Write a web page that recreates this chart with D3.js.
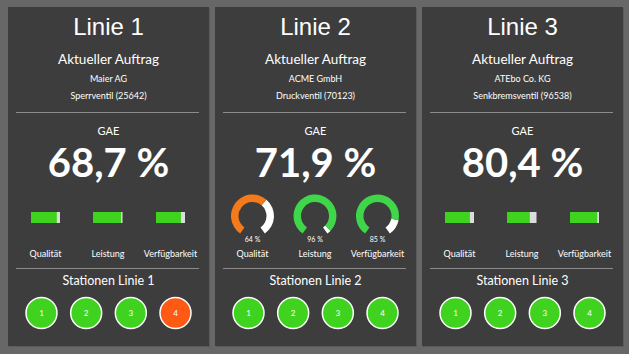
<!DOCTYPE html>
<head>
  <meta charset="utf-8">
  <style>
    body { margin: 0; background: #676767; }
    svg text { fill: #fff; text-anchor: middle; font-family: Lato, "Open Sans", sans-serif; }
    svg .title { font-family: "Liberation Sans", Arial, sans-serif; font-size: 24px; }
    svg .sep { stroke: #8c8c8c; stroke-width: 1px; }
  </style>
</head>
<body>
<script src="https://d3js.org/d3.v7.min.js"></script>
<script>
  // dashboard data
  var lines        = ["Linie 1", "Linie 2", "Linie 3"];
  var customers    = ["Maier AG", "ACME GmbH", "ATEbo Co. KG"];
  var products     = ["Sperrventil (25642)", "Druckventil (70123)", "Senkbremsventil (96538)"];
  var gae          = [68.7, 71.9, 80.4];
  var kpiNames     = ["Qualität", "Leistung", "Verfügbarkeit"];
  var quality      = [89, 64, 86];
  var performance  = [95, 96, 77];
  var availability = [86, 85, 94];
  var kpiStyle     = ["bar", "gauge", "bar"];
  var stations     = [1, 2, 3, 4];
  var stationState = [["ok", "ok", "ok", "fault"], ["ok", "ok", "ok", "ok"], ["ok", "ok", "ok", "ok"]];

  var W = 629, H = 354;
  var panelW = 201, panelTop = 7, panelH = 339;

  var svg = d3.select("body").append("svg")
      .attr("width", W)
      .attr("height", H);

  // panel positions
  var xPanel = d3.scalePoint().domain(lines).range([8, 422]);
  var xKpi = d3.scalePoint().domain(kpiNames).range([-63, 62]);
  var xStation = d3.scalePoint().domain(stations).range([-67, 67]);
  var fillScale = d3.scaleLinear().domain([0, 100]).range([0, 29]);
  var angle = d3.scaleLinear().domain([0, 100]).range([-0.805 * Math.PI, 0.805 * Math.PI]);

  var green = "#3fd31f", gaugeGreen = "#3fd64a", orange = "#f57a1c", red = "#ff5a14";

  var fmt = function (v) { return d3.format(".1f")(v).replace(".", ",") + " %"; };

  lines.forEach(function (name, i) {
    var g = svg.append("g")
        .attr("transform", "translate(" + xPanel(name) + "," + panelTop + ")");
    var cx = panelW / 2;

    g.append("rect")
        .attr("x", 1).attr("y", 1)
        .attr("width", panelW).attr("height", panelH)
        .style("fill", "#5a5a5a");
    g.append("rect")
        .attr("width", panelW).attr("height", panelH)
        .style("fill", "#3d3d3d");

    g.append("text").classed("title", true)
        .attr("x", cx).attr("y", 28)
        .text(name);
    g.append("text")
        .attr("x", cx).attr("y", 57)
        .style("font-size", "13.5px")
        .text("Aktueller Auftrag");
    g.append("text")
        .attr("x", cx).attr("y", 75)
        .style("font-size", "9px")
        .text(customers[i]);
    g.append("text")
        .attr("x", cx).attr("y", 91.5)
        .style("font-size", "9px")
        .text(products[i]);

    g.append("line").classed("sep", true)
        .attr("x1", 8).attr("x2", panelW - 10)
        .attr("y1", 105.5).attr("y2", 105.5);

    g.append("text")
        .attr("x", cx).attr("y", 128)
        .style("font-size", "11px")
        .text("GAE");
    g.append("text")
        .attr("x", cx).attr("y", 170)
        .style("font-size", "40px")
        .style("font-weight", "bold")
        .text(fmt(gae[i]));

    var vals = [quality[i], performance[i], availability[i]];

    kpiNames.forEach(function (k, j) {
      var kx = cx + xKpi(k);
      if (kpiStyle[i] === "bar") {
        g.append("rect")
            .attr("x", kx - 14.5).attr("y", 205)
            .attr("width", fillScale(100)).attr("height", 11)
            .style("fill", "#dcdcdc");
        g.append("rect")
            .attr("x", kx - 14.5).attr("y", 205)
            .attr("width", fillScale(vals[j])).attr("height", 11)
            .style("fill", green);
      } else {
        var arc = d3.arc().innerRadius(14).outerRadius(21.5);
        var col = vals[j] < 80 ? orange : gaugeGreen;
        var gg = g.append("g").attr("transform", "translate(" + kx + ",209)");
        gg.append("path")
            .attr("d", arc({ startAngle: angle(vals[j]), endAngle: angle(100) }))
            .style("fill", "#fff");
        gg.append("path")
            .attr("d", arc({ startAngle: angle(0), endAngle: angle(vals[j]) }))
            .style("fill", col);
        gg.append("text")
            .attr("y", 26)
            .style("font-size", "7px")
            .text(vals[j] + " %");
      }
      g.append("text")
          .attr("x", kx).attr("y", 250)
          .style("font-size", "9px")
          .text(k);
    });

    g.append("line").classed("sep", true)
        .attr("x1", 8).attr("x2", panelW - 10)
        .attr("y1", 261.5).attr("y2", 261.5);

    g.append("text")
        .attr("x", cx).attr("y", 278)
        .style("font-size", "12.5px")
        .text("Stationen " + name);

    stations.forEach(function (s, j) {
      g.append("circle")
          .attr("cx", cx + xStation(s)).attr("cy", 306)
          .attr("r", 15.5)
          .style("fill", stationState[i][j] === "ok" ? green : red)
          .style("stroke", "#fff")
          .style("stroke-width", "1.5px");
      g.append("text")
          .attr("x", cx + xStation(s)).attr("y", 309)
          .style("font-size", "8px")
          .text(s);
    });
  });
</script>
</body>
</html>
